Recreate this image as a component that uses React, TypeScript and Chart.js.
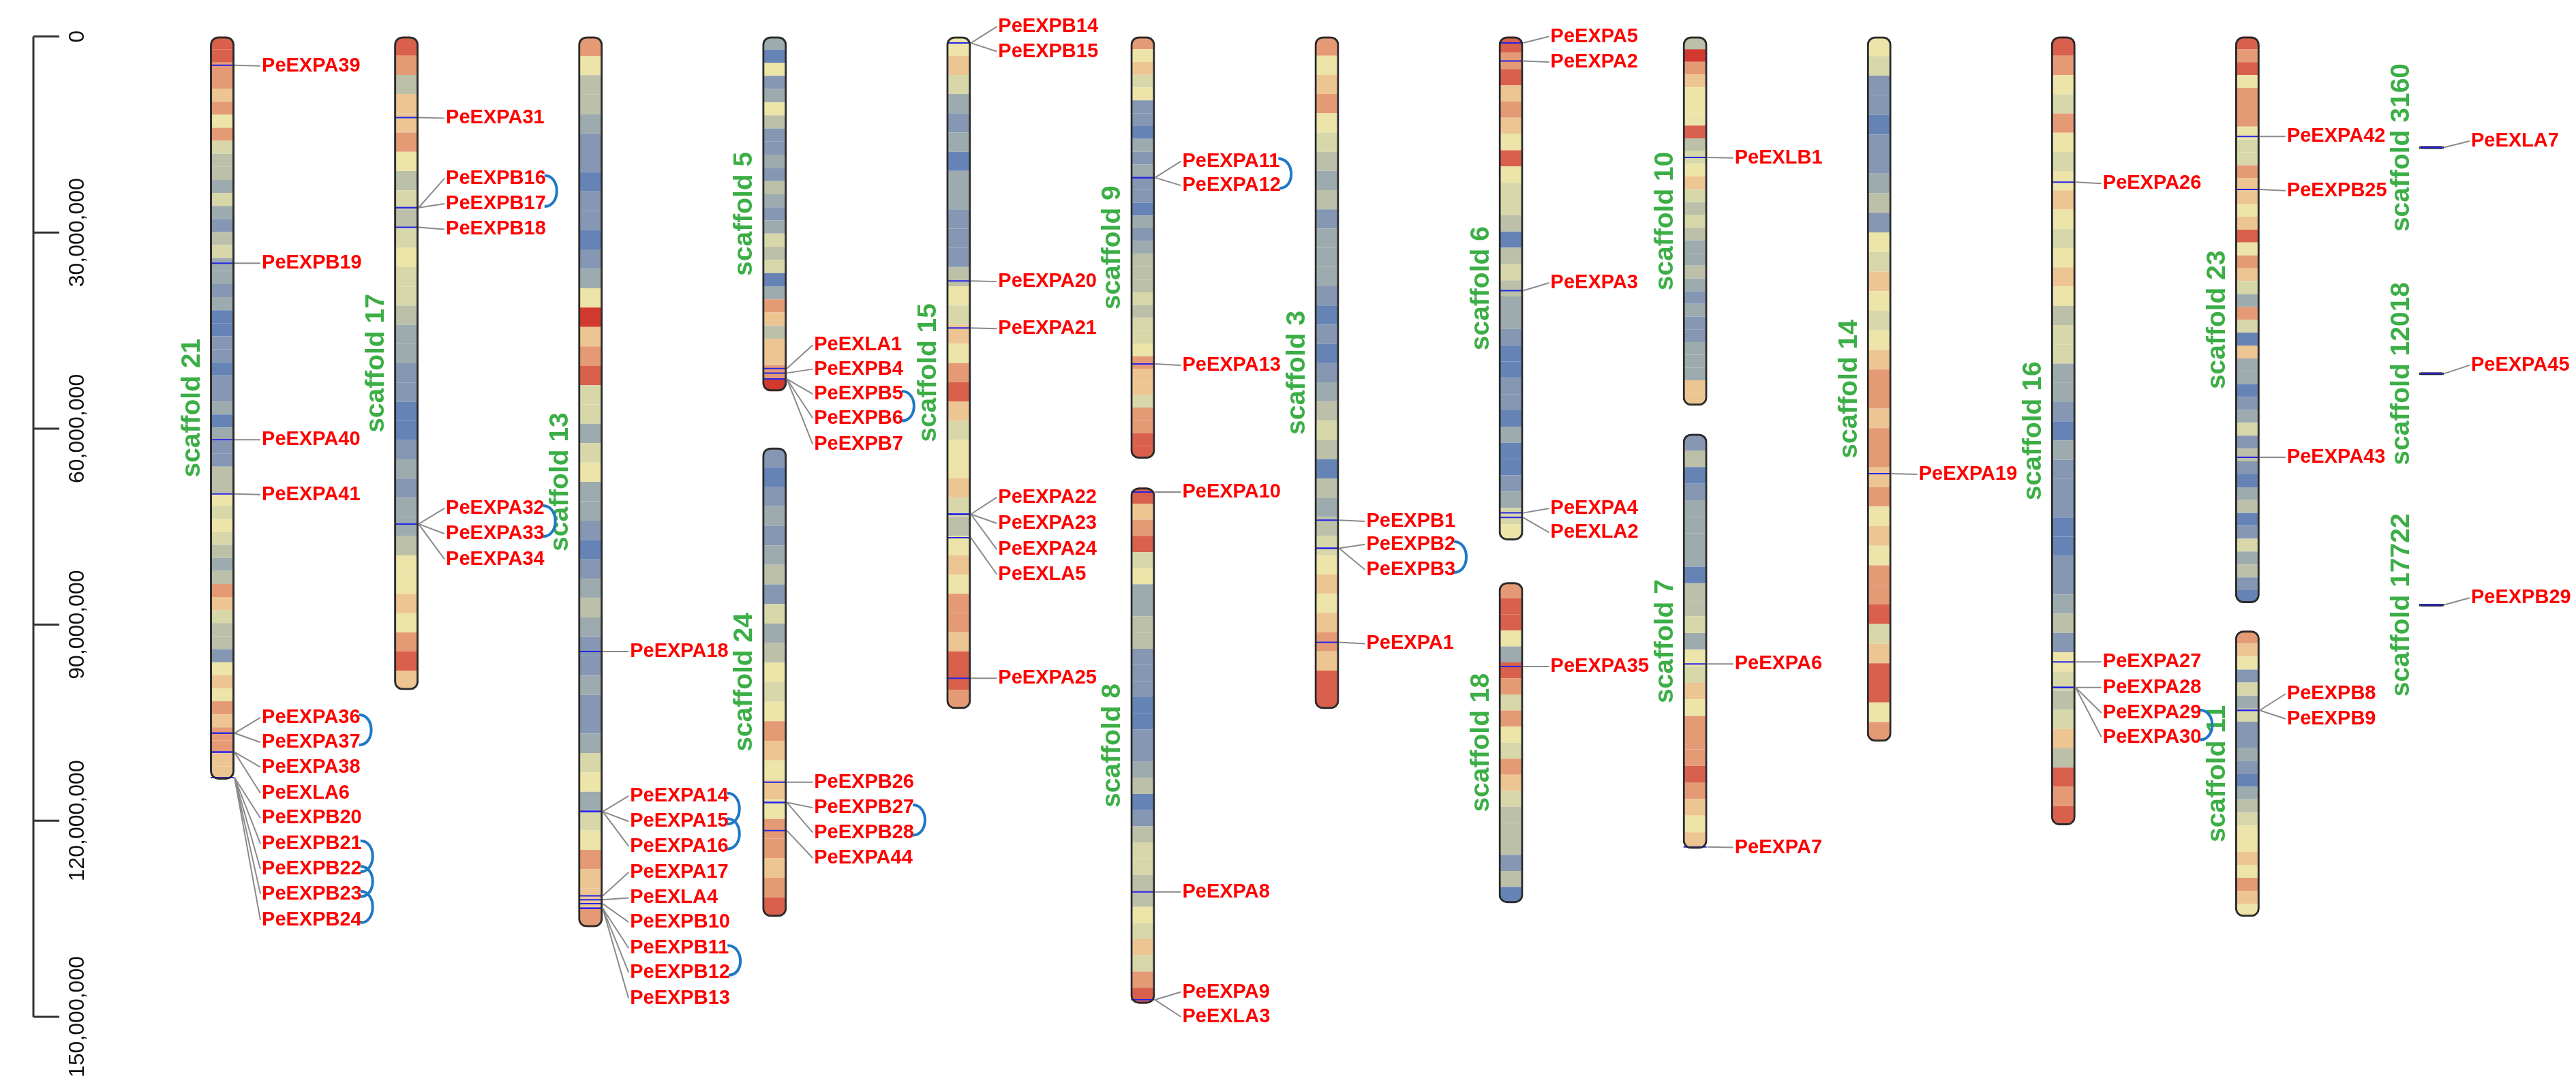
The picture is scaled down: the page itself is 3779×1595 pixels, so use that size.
import React, { useEffect, useRef } from 'react';
import { Chart, registerables } from 'chart.js';

Chart.register(...registerables);

// ---------------- data ----------------
const Y_TICKS = [0, 30, 60, 90, 120, 150]; // Mb
const Y_TICK_LABELS = ['0', '30,000,000', '60,000,000', '90,000,000', '120,000,000', '150,000,000'];

const CHROM_NAMES = [
  'scaffold 21', 'scaffold 17', 'scaffold 13', 'scaffold 5', 'scaffold 24', 'scaffold 15', 'scaffold 9',
  'scaffold 8', 'scaffold 3', 'scaffold 6', 'scaffold 18', 'scaffold 10', 'scaffold 7', 'scaffold 14',
  'scaffold 16', 'scaffold 23', 'scaffold 11', 'scaffold 3160', 'scaffold 12018', 'scaffold 17722',
];
const CHROM_COLUMN = [0, 1, 2, 3, 3, 4, 5, 5, 6, 7, 7, 8, 8, 9, 10, 11, 11, 12, 12, 12];
const CHROM_START = [0, 0, 0, 0, 62.9, 0, 0, 69.0, 0, 0, 83.5, 0, 60.8, 0, 0, 0, 90.9, 16.8, 51.4, 86.8];
const CHROM_END = [113.7, 100.0, 136.3, 54.3, 134.7, 102.9, 64.6, 148.0, 102.9, 77.1, 132.6, 56.5, 124.3, 107.9, 120.7, 86.7, 134.7, 17.2, 51.8, 87.2];
// gene-density level per equal segment (0 = low/blue ... 9 = high/red, r = deep red, n = tiny scaffold)
const CHROM_BANDS = [
  '9988786854' + '4353245332' + '3112212231' + '3224465654' + '3487544267' + '6878877',
  '9847786454' + '5655433221' + '1232334667' + '6897',
  '8644322122' + '1236r78955' + '3563321234' + '3223223563' + '568778',
  '3162364223' + '2432354513' + '874778r',
  '2123234253' + '4656876768' + '8789',
  '6753231332' + '2246576897' + '5667546768' + '87998',
  '8675622132' + '3221323444' + '5455687758' + '899',
  '9789563344' + '2221122341' + '2455446575' + '89',
  '8678654342' + '3332121234' + '5414345676' + '78799',
  '9897876965' + '5414543321' + '1221311235' + '6',
  '8996398586' + '5875444241',
  '4r87666945' + '6754543343' + '232233377',
  '2412333314' + '4536576888' + '98767',
  '6522122342' + '6576567887' + '8878676889' + '579968',
  '9865865676' + '5676455332' + '1322211223' + '4265457498' + '9',
  '9896888655' + '8776796875' + '3851733123' + '5242134125' + '3421',
  '8762535223' + '2134566768' + '76',
  'n', 'n', 'n',
];

const GENE_NAMES = [
  'PeEXPA39', 'PeEXPB19', 'PeEXPA40', 'PeEXPA41', 'PeEXPA36', 'PeEXPA37', 'PeEXPA38', 'PeEXLA6', 'PeEXPB20', 'PeEXPB21', 'PeEXPB22', 'PeEXPB23', 'PeEXPB24',
  'PeEXPA31', 'PeEXPB16', 'PeEXPB17', 'PeEXPB18', 'PeEXPA32', 'PeEXPA33', 'PeEXPA34',
  'PeEXPA18', 'PeEXPA14', 'PeEXPA15', 'PeEXPA16', 'PeEXPA17', 'PeEXLA4', 'PeEXPB10', 'PeEXPB11', 'PeEXPB12', 'PeEXPB13',
  'PeEXLA1', 'PeEXPB4', 'PeEXPB5', 'PeEXPB6', 'PeEXPB7',
  'PeEXPB26', 'PeEXPB27', 'PeEXPB28', 'PeEXPA44',
  'PeEXPB14', 'PeEXPB15', 'PeEXPA20', 'PeEXPA21', 'PeEXPA22', 'PeEXPA23', 'PeEXPA24', 'PeEXLA5', 'PeEXPA25',
  'PeEXPA11', 'PeEXPA12', 'PeEXPA13',
  'PeEXPA10', 'PeEXPA8', 'PeEXPA9', 'PeEXLA3',
  'PeEXPB1', 'PeEXPB2', 'PeEXPB3', 'PeEXPA1',
  'PeEXPA5', 'PeEXPA2', 'PeEXPA3', 'PeEXPA4', 'PeEXLA2',
  'PeEXPA35',
  'PeEXLB1',
  'PeEXPA6', 'PeEXPA7',
  'PeEXPA19',
  'PeEXPA26', 'PeEXPA27', 'PeEXPA28', 'PeEXPA29', 'PeEXPA30',
  'PeEXPA42', 'PeEXPB25', 'PeEXPA43',
  'PeEXPB8', 'PeEXPB9',
  'PeEXLA7', 'PeEXPA45', 'PeEXPB29',
];
const GENE_CHROM = [
  0, 0, 0, 0, 0, 0, 0, 0, 0, 0, 0, 0, 0,
  1, 1, 1, 1, 1, 1, 1,
  2, 2, 2, 2, 2, 2, 2, 2, 2, 2,
  3, 3, 3, 3, 3,
  4, 4, 4, 4,
  5, 5, 5, 5, 5, 5, 5, 5, 5,
  6, 6, 6,
  7, 7, 7, 7,
  8, 8, 8, 8,
  9, 9, 9, 9, 9,
  10,
  11,
  12, 12,
  13,
  14, 14, 14, 14, 14,
  15, 15, 15,
  16, 16,
  17, 18, 19,
];
const GENE_MB = [
  4.4, 34.7, 61.7, 70.0, 106.6, 106.6, 109.5, 109.5, 113.4, 113.4, 113.4, 113.4, 113.4,
  12.4, 26.2, 26.2, 29.2, 74.6, 74.6, 74.6,
  94.1, 118.6, 118.6, 118.6, 131.5, 132.1, 132.7, 133.4, 133.4, 133.4,
  50.8, 51.5, 52.4, 52.4, 52.4,
  114.1, 117.2, 117.2, 121.5,
  1.0, 1.0, 37.4, 44.6, 73.1, 73.1, 73.1, 76.7, 98.2,
  21.6, 21.6, 50.1,
  69.7, 130.9, 147.4, 147.4,
  74.0, 78.3, 78.3, 92.7,
  1.0, 3.75, 38.9, 72.9, 73.6,
  96.4,
  18.5,
  96.0, 124.0,
  66.9,
  22.3, 95.7, 99.6, 99.6, 99.6,
  15.3, 23.4, 64.4,
  103.1, 103.1,
  17.0, 51.6, 87.0,
];
const LABEL_MB = [
  4.5, 34.7, 61.7, 70.1, 104.2, 108.0, 111.8, 115.8, 119.6, 123.5, 127.4, 131.2, 135.2,
  12.5, 21.7, 25.6, 29.5, 72.2, 76.1, 80.0,
  94.1, 116.2, 120.1, 123.9, 127.9, 131.8, 135.5, 139.5, 143.2, 147.2,
  47.2, 50.9, 54.7, 58.4, 62.4,
  114.1, 118.0, 121.8, 125.7,
  -1.5, 2.3, 37.5, 44.7, 70.5, 74.5, 78.5, 82.3, 98.2,
  19.1, 22.8, 50.3,
  69.7, 130.9, 146.2, 150.0,
  74.2, 77.7, 81.6, 92.9,
  0.0, 3.9, 37.7, 72.2, 75.9,
  96.4,
  18.6,
  96.0, 124.1,
  67.0,
  22.5, 95.7, 99.6, 103.5, 107.2,
  15.3, 23.6, 64.4,
  100.6, 104.4,
  16.0, 50.3, 85.9,
];
const TANDEM_PAIRS = [
  ['PeEXPA36', 'PeEXPA37'], ['PeEXPB21', 'PeEXPB22'], ['PeEXPB22', 'PeEXPB23'], ['PeEXPB23', 'PeEXPB24'],
  ['PeEXPB16', 'PeEXPB17'], ['PeEXPA32', 'PeEXPA33'], ['PeEXPA14', 'PeEXPA15'], ['PeEXPA15', 'PeEXPA16'],
  ['PeEXPB11', 'PeEXPB12'], ['PeEXPB5', 'PeEXPB6'], ['PeEXPB27', 'PeEXPB28'], ['PeEXPA11', 'PeEXPA12'],
  ['PeEXPB2', 'PeEXPB3'], ['PeEXPA29', 'PeEXPA30'],
];

// ---------------- styles ----------------
const PALETTE: Record<string, string> = {
  '0': '#4e6daf', '1': '#6683b6', '2': '#8597b2', '3': '#9eabae', '4': '#bcc0a8',
  '5': '#d8d7aa', '6': '#ece4a8', '7': '#ecc593', '8': '#e59a76', '9': '#d9604c',
  r: '#d2392f', n: '#16166e',
};
const FONT = '"Liberation Sans", Arial, sans-serif';

export default function App() {
  const ref = useRef<HTMLCanvasElement>(null);

  useEffect(() => {
    document.body.style.margin = '0';
    const canvas = ref.current!;

    const bandData: any[] = [];
    const bandColors: string[] = [];
    const bandRadius: any[] = [];
    CHROM_NAMES.forEach((_, ci) => {
      const s = CHROM_START[ci];
      const e = CHROM_END[ci];
      const b = CHROM_BANDS[ci];
      const seg = (e - s) / b.length;
      for (let k = 0; k < b.length; k++) {
        bandData.push({ x: CHROM_COLUMN[ci], y: [s + k * seg, s + (k + 1) * seg] });
        bandColors.push(PALETTE[b[k]]);
        const tiny = e - s < 1;
        const r = { topLeft: 0, topRight: 0, bottomLeft: 0, bottomRight: 0 };
        if (!tiny && k === 0) { r.topLeft = 12; r.topRight = 12; }
        if (!tiny && k === b.length - 1) { r.bottomLeft = 12; r.bottomRight = 12; }
        bandRadius.push(r);
      }
    });
    const outlineData = CHROM_NAMES.map((_, ci) => ({ x: CHROM_COLUMN[ci], y: [CHROM_START[ci], CHROM_END[ci]] }));
    const geneData = GENE_MB.map((m, i) => ({ x: CHROM_COLUMN[GENE_CHROM[i]], y: m }));

    const annotate = {
      id: 'annotate',
      afterDatasetsDraw(chart: any) {
        const ctx = chart.ctx as CanvasRenderingContext2D;
        const xs = chart.scales.x;
        const ys = chart.scales.y;
        ctx.save();

        // vertical axis (ticks to the right, rotated labels)
        const ax = 49;
        ctx.strokeStyle = '#333';
        ctx.lineWidth = 3;
        ctx.beginPath();
        ctx.moveTo(ax, ys.getPixelForValue(Y_TICKS[0]));
        ctx.lineTo(ax, ys.getPixelForValue(Y_TICKS[Y_TICKS.length - 1]));
        ctx.stroke();
        ctx.fillStyle = '#111';
        ctx.font = `32px ${FONT}`;
        Y_TICKS.forEach((t, i) => {
          const py = ys.getPixelForValue(t);
          ctx.beginPath();
          ctx.moveTo(ax, py);
          ctx.lineTo(ax + 38, py);
          ctx.stroke();
          ctx.save();
          ctx.translate(123, py);
          ctx.rotate(-Math.PI / 2);
          ctx.textAlign = 'center';
          ctx.textBaseline = 'alphabetic';
          ctx.fillText(Y_TICK_LABELS[i], 0, 0);
          ctx.restore();
        });

        // scaffold names
        ctx.fillStyle = '#3cae46';
        ctx.font = `bold 39px ${FONT}`;
        CHROM_NAMES.forEach((name, ci) => {
          const cx = xs.getPixelForValue(CHROM_COLUMN[ci]);
          const cy = ys.getPixelForValue((CHROM_START[ci] + CHROM_END[ci]) / 2);
          ctx.save();
          ctx.translate(cx - 33, cy);
          ctx.rotate(-Math.PI / 2);
          ctx.textAlign = 'center';
          ctx.textBaseline = 'alphabetic';
          ctx.fillText(name, 0, 0);
          ctx.restore();
        });

        // leader lines + gene labels
        ctx.font = `bold 29px ${FONT}`;
        const ends: Record<string, { x: number; y: number }> = {};
        GENE_NAMES.forEach((name, i) => {
          const cx = xs.getPixelForValue(CHROM_COLUMN[GENE_CHROM[i]]);
          const gy = ys.getPixelForValue(GENE_MB[i]);
          const ly = ys.getPixelForValue(LABEL_MB[i]);
          ctx.strokeStyle = '#8a8a8a';
          ctx.lineWidth = 2;
          ctx.beginPath();
          ctx.moveTo(cx + 18, gy);
          ctx.lineTo(cx + 56, ly);
          ctx.stroke();
          ctx.fillStyle = '#ff0000';
          ctx.textAlign = 'left';
          ctx.textBaseline = 'middle';
          ctx.fillText(name, cx + 58, ly);
          ends[name] = { x: cx + 58 + ctx.measureText(name).width, y: ly };
        });

        // tandem duplication arcs
        ctx.strokeStyle = '#1f78c4';
        ctx.lineWidth = 4;
        TANDEM_PAIRS.forEach(([a, b]) => {
          const p = ends[a];
          const q = ends[b];
          if (!p || !q) return;
          ctx.beginPath();
          ctx.moveTo(p.x - 2, p.y - 4);
          ctx.bezierCurveTo(p.x + 22, p.y - 4, q.x + 22, q.y + 4, q.x - 2, q.y + 4);
          ctx.stroke();
        });
        ctx.restore();
      },
    };

    const chart = new Chart(canvas, {
      type: 'bar',
      data: {
        datasets: [
          {
            type: 'bar',
            data: bandData,
            backgroundColor: bandColors,
            borderRadius: (c: any) => bandRadius[c.dataIndex],
            borderSkipped: false,
            borderWidth: 0,
            grouped: false,
            maxBarThickness: 32,
            order: 3,
            clip: false,
          } as any,
          {
            type: 'scatter',
            data: geneData,
            pointStyle: 'line',
            pointRadius: 17,
            pointHoverRadius: 17,
            pointBorderColor: '#2424e6',
            pointBorderWidth: 2,
            order: 2,
            clip: false,
          } as any,
          {
            type: 'bar',
            data: outlineData,
            backgroundColor: 'rgba(0,0,0,0)',
            borderColor: '#2b2b2b',
            borderWidth: (c: any) => (CHROM_END[c.dataIndex] - CHROM_START[c.dataIndex] < 1 ? 1 : 3),
            borderRadius: (c: any) => (CHROM_END[c.dataIndex] - CHROM_START[c.dataIndex] < 1 ? 0 : 12),
            borderSkipped: false,
            grouped: false,
            maxBarThickness: 36,
            order: 1,
            clip: false,
          } as any,
        ],
      },
      options: {
        responsive: false,
        animation: false,
        devicePixelRatio: 1,
        events: [],
        layout: { padding: { left: 191, right: 77, top: 53.5, bottom: 103 } },
        scales: {
          x: { type: 'linear', min: -0.5, max: 12.5, offset: false, display: false },
          y: { type: 'linear', min: 0, max: 150, reverse: true, display: false },
        },
        plugins: { legend: { display: false }, tooltip: { enabled: false } },
      } as any,
      plugins: [annotate],
    });

    return () => chart.destroy();
  }, []);

  return (
    <div style={{ position: 'fixed', left: 0, top: 0, background: '#fff' }}>
      <canvas ref={ref} width={3779} height={1595} style={{ display: 'block' }} />
    </div>
  );
}
